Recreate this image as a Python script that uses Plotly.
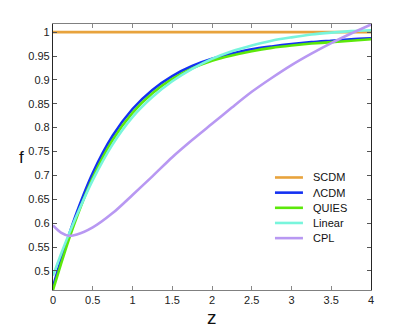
import plotly.graph_objects as go

z = [0, 0.1, 0.2, 0.3, 0.5, 0.75, 1, 1.25, 1.5, 1.75, 2, 2.25, 2.5, 2.75, 3, 3.25, 3.5, 3.75, 4]

f_scdm = [1.0] * len(z)
f_lcdm = [0.467, 0.523, 0.575, 0.623, 0.705, 0.783, 0.839, 0.879, 0.908, 0.929, 0.944,
          0.955, 0.964, 0.970, 0.975, 0.979, 0.982, 0.985, 0.987]
f_quies = [0.460, 0.514, 0.566, 0.613, 0.695, 0.774, 0.831, 0.872, 0.902, 0.924, 0.940,
           0.951, 0.960, 0.967, 0.972, 0.976, 0.979, 0.982, 0.985]
f_linear = [0.490, 0.535, 0.577, 0.617, 0.690, 0.765, 0.822, 0.864, 0.897, 0.923, 0.944,
            0.960, 0.972, 0.982, 0.989, 0.995, 0.999, 1.002, 1.004]
f_cpl = [0.595, 0.580, 0.5735, 0.576, 0.591, 0.621, 0.659, 0.698, 0.738, 0.774, 0.808,
         0.842, 0.875, 0.904, 0.931, 0.955, 0.977, 0.997, 1.016]

series = [
    ("SCDM", f_scdm, "#E8A33D"),
    ("\u039bCDM", f_lcdm, "#1431F2"),
    ("QUIES", f_quies, "#5CE80A"),
    ("Linear", f_linear, "#78F5DC"),
    ("CPL", f_cpl, "#B898F2"),
]

fig = go.Figure()
for name, vals, col in series:
    fig.add_trace(go.Scatter(x=z, y=vals, name=name, mode="lines", showlegend=False,
                             line=dict(color=col, width=2.6, shape="spline", smoothing=0.8)))

# legend drawn by hand so the rows sit closer than plotly's legend allows
leg_y = [0.423, 0.366, 0.309, 0.252, 0.195]
for (name, vals, col), yy in zip(series, leg_y):
    fig.add_shape(type="line", xref="paper", yref="paper", x0=0.698, x1=0.786, y0=yy, y1=yy,
                  line=dict(color=col, width=2.6))
    fig.add_annotation(text=name, xref="paper", yref="paper", x=0.81, y=yy,
                       xanchor="left", yanchor="middle", showarrow=False,
                       font=dict(size=11, color="#111"))

fig.add_annotation(text="f", xref="paper", yref="paper", x=-0.098, y=0.5,
                   xanchor="center", yanchor="middle", showarrow=False,
                   font=dict(size=17, color="#111"))
fig.add_annotation(text="z", xref="paper", yref="paper", x=0.5, y=-0.105,
                   xanchor="center", yanchor="middle", showarrow=False,
                   font=dict(size=19, color="#111"))

# the page body adds an 8px offset, so margins are shifted by that much
fig.update_layout(
    width=410, height=327,
    margin=dict(l=45, r=47, t=16, b=45),
    paper_bgcolor="white", plot_bgcolor="white",
    font=dict(family="Liberation Sans, Arial, sans-serif", size=11, color="#222"),
    showlegend=False,
)
fig.update_xaxes(range=[0, 4], tickvals=[0, 0.5, 1, 1.5, 2, 2.5, 3, 3.5, 4],
                 ticktext=["0", "0.5", "1", "1.5", "2", "2.5", "3", "3.5", "4"],
                 ticks="inside", ticklen=4, tickcolor="#888",
                 showline=True, linecolor="#808080", linewidth=1.2, mirror="ticks",
                 showgrid=False, zeroline=False, automargin=False)
fig.update_yaxes(range=[0.46, 1.017],
                 tickvals=[0.5, 0.55, 0.6, 0.65, 0.7, 0.75, 0.8, 0.85, 0.9, 0.95, 1],
                 ticktext=["0.5", "0.55", "0.6", "0.65", "0.7", "0.75", "0.8", "0.85", "0.9", "0.95", "1"],
                 ticks="inside", ticklen=4, tickcolor="#555",
                 showline=True, linecolor="#262626", linewidth=1.2, mirror="ticks",
                 showgrid=False, zeroline=False, automargin=False)

fig.write_html("out.html")
